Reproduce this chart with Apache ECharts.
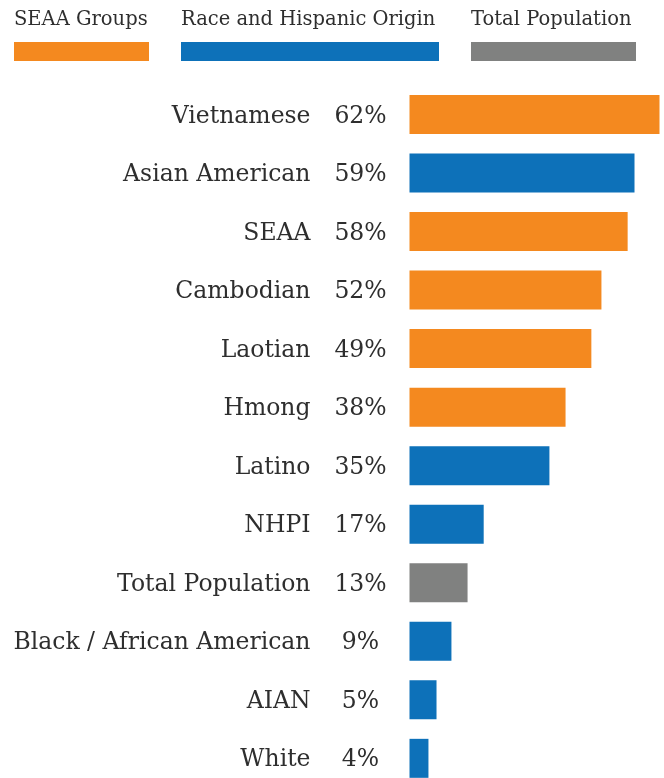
<!DOCTYPE html>
<html>
<head>
<meta charset="utf-8">
<style>
  html, body { margin: 0; padding: 0; background: #fff; }
  #chart { width: 664px; height: 778px; }
</style>
<script src="https://cdn.jsdelivr.net/npm/echarts@6/dist/echarts.min.js"></script>
</head>
<body>
<div id="chart"></div>
<script>
// Cores
const COLORS = {
    seaa: '#F4891F',
    race: '#0D71B9',
    total: '#808180',
    text: '#2e2e2e'
};
const FONT = 'DejaVu Serif';

// Dados
const categories = [
    'Vietnamese', 'Asian American', 'SEAA', 'Cambodian', 'Laotian', 'Hmong',
    'Latino', 'NHPI', 'Total Population', 'Black / African American', 'AIAN', 'White'
];
const percentLabels = ['62%', '59%', '58%', '52%', '49%', '38%', '35%', '17%', '13%', '9%', '5%', '4%'];
// comprimento das barras
const barValues = [62, 55.8, 54.1, 47.6, 45.1, 38.7, 34.7, 18.4, 14.4, 10.4, 6.7, 4.7];
const groups = ['seaa', 'race', 'seaa', 'seaa', 'seaa', 'seaa', 'race', 'race', 'total', 'race', 'race', 'race'];

const legendItems = [
    { name: 'SEAA Groups', key: 'seaa', x: 14, w: 135 },
    { name: 'Race and Hispanic Origin', key: 'race', x: 181, w: 258 },
    { name: 'Total Population', key: 'total', x: 471, w: 165 }
];

const chart = echarts.init(document.getElementById('chart'));

const legendGraphics = [];
legendItems.forEach(item => {
    legendGraphics.push({
        type: 'text',
        left: item.x,
        top: 10,
        style: { text: item.name, fill: COLORS.text, font: `19.5px "${FONT}"` }
    });
    legendGraphics.push({
        type: 'rect',
        left: item.x,
        top: 42,
        shape: { width: item.w, height: 19 },
        style: { fill: COLORS[item.key] }
    });
});

const option = {
    backgroundColor: '#fff',
    animation: false,
    grid: {
        left: 409.5,
        top: 85.2,
        width: 250,
        height: 702.4,
        outerBoundsMode: 'none'
    },
    xAxis: {
        type: 'value',
        min: 0,
        max: 62,
        show: false
    },
    yAxis: {
        type: 'category',
        inverse: true,
        data: categories,
        axisLine: { show: false },
        axisTick: { show: false },
        axisLabel: {
            margin: 23,
            formatter: (value, idx) => `{n|${value}}{g|}{p|${percentLabels[idx]}}`,
            rich: {
                n: { fontFamily: FONT, fontSize: 23.5, color: COLORS.text, padding: [4, 0, 0, 0] },
                g: { width: 24 },
                p: { fontFamily: FONT, fontSize: 23.5, color: COLORS.text, width: 52, align: 'center', padding: [4, 0, 0, 0] }
            }
        }
    },
    series: [{
        type: 'bar',
        barWidth: 39,
        data: barValues.map((v, i) => ({
            value: v,
            itemStyle: { color: COLORS[groups[i]] }
        }))
    }],
    graphic: legendGraphics
};

chart.setOption(option);
</script>
</body>
</html>
